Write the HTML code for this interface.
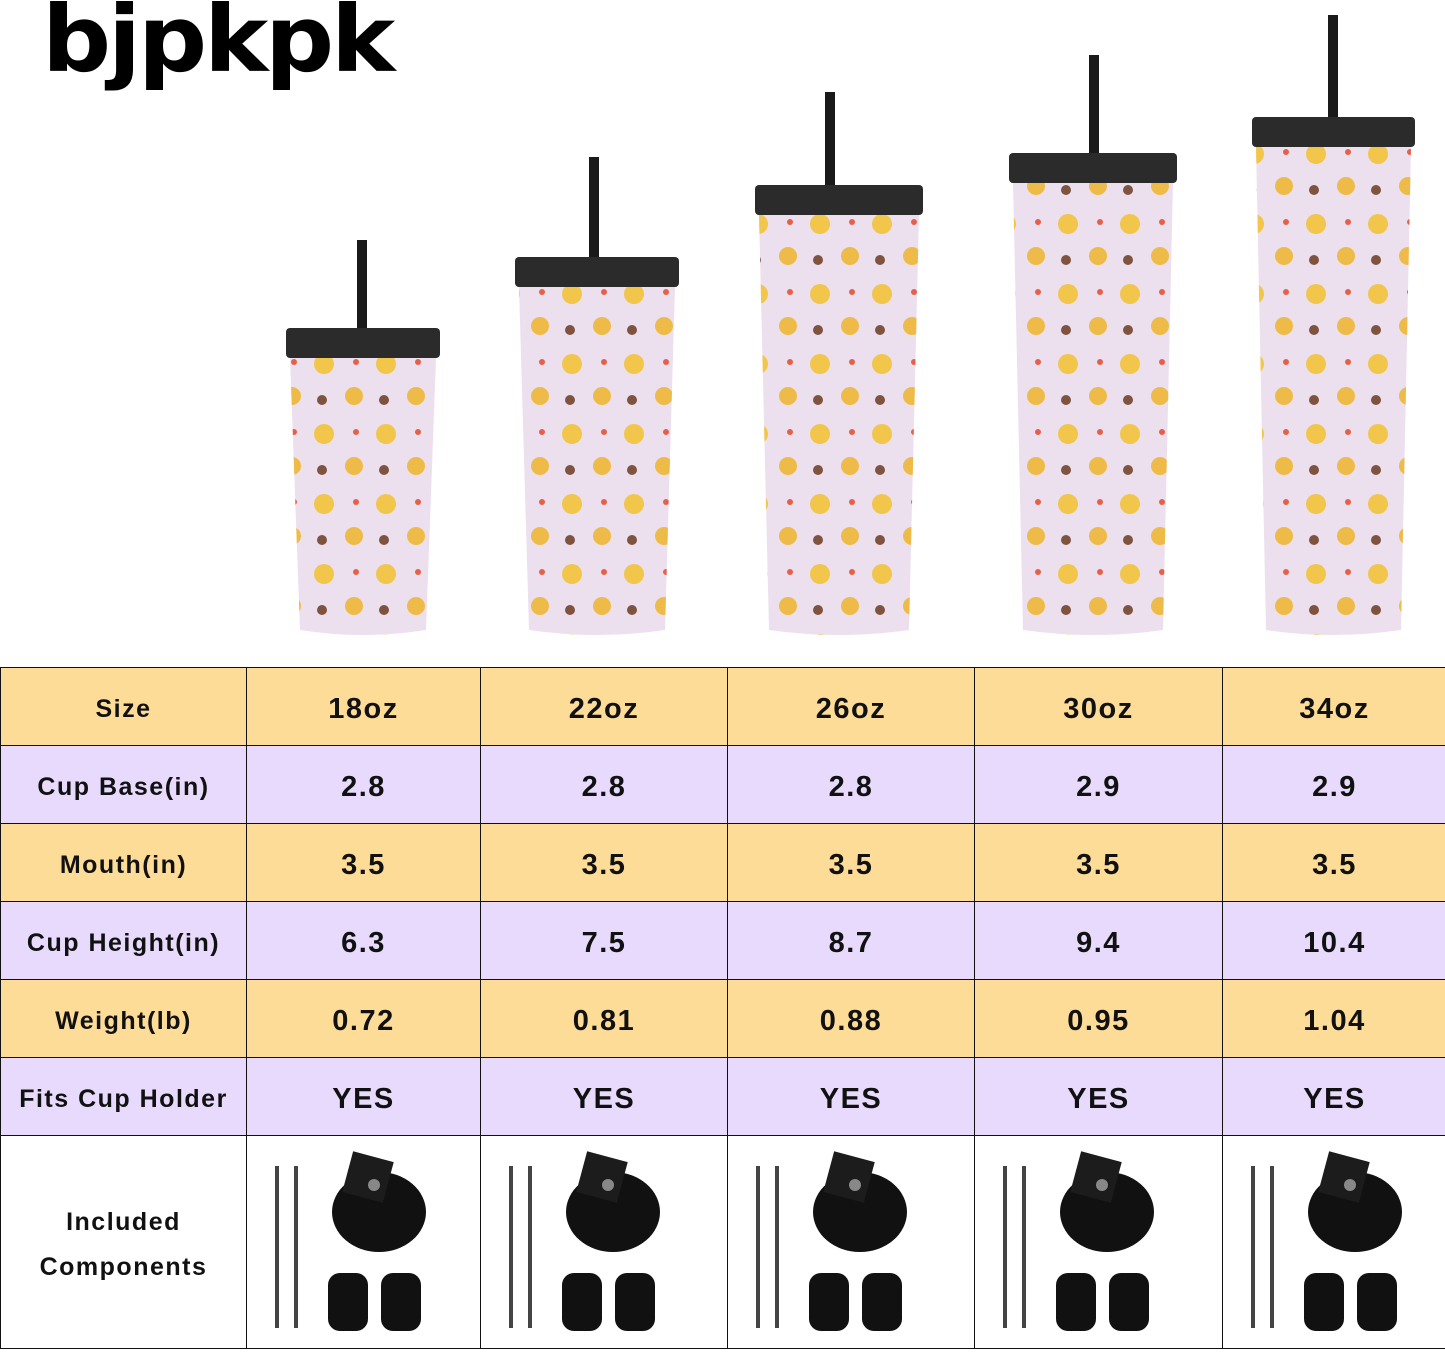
<!DOCTYPE html><html><head><style>
body{margin:0;width:1445px;height:1353px;background:#fff;position:relative;overflow:hidden;font-family:"Liberation Sans","DejaVu Sans",sans-serif}
.a{position:absolute}
.logo{left:42px;top:-14px;font-size:92px;font-weight:900;letter-spacing:-3px;color:#000;font-family:"DejaVu Sans",sans-serif;transform:scaleX(1.05);transform-origin:left}
table{position:absolute;left:0;top:667px;border-collapse:collapse;width:1447px}
td{border:1.5px solid #111;text-align:center;font-size:29px;font-weight:bold;color:#111;padding:6px 0 0 0;letter-spacing:1.5px}
td.h{font-size:25px}
.y td{background:#fddc98}.p td{background:#e8dafc}
tr{height:78px}
.c td{background:#fff;height:206px}
</style></head><body>
<div class="a logo">bjpkpk</div>
<svg class="a" style="left:0;top:0" width="1445" height="660" id="cupsvg">
<defs><pattern id="d" width="62" height="70" patternUnits="userSpaceOnUse"><circle cx="14" cy="14" r="10" fill="#f2c12e"/><circle cx="44" cy="46" r="9" fill="#f0b52a"/><circle cx="46" cy="12" r="3" fill="#e24a2a"/><circle cx="12" cy="50" r="5" fill="#6b3a20"/></pattern></defs>
<g id="cups"></g>
</svg>
<table>
<tr class="y"><td class="h" style="width:245px">Size</td><td style="width:233px">18oz</td><td style="width:246px">22oz</td><td style="width:246px">26oz</td><td style="width:247px">30oz</td><td>34oz</td></tr>
<tr class="p"><td class="h">Cup Base(in)</td><td>2.8</td><td>2.8</td><td>2.8</td><td>2.9</td><td>2.9</td></tr>
<tr class="y"><td class="h">Mouth(in)</td><td>3.5</td><td>3.5</td><td>3.5</td><td>3.5</td><td>3.5</td></tr>
<tr class="p"><td class="h">Cup Height(in)</td><td>6.3</td><td>7.5</td><td>8.7</td><td>9.4</td><td>10.4</td></tr>
<tr class="y"><td class="h">Weight(lb)</td><td>0.72</td><td>0.81</td><td>0.88</td><td>0.95</td><td>1.04</td></tr>
<tr class="p"><td class="h">Fits Cup Holder</td><td>YES</td><td>YES</td><td>YES</td><td>YES</td><td>YES</td></tr>
<tr class="c"><td class="h" style="line-height:45px">Included<br>Components</td><td></td><td></td><td></td><td></td><td></td></tr>
</table>
<svg class="a" style="left:0;top:1140px" width="1445" height="213" id="comp"></svg>
<script>
var cups=[[286,440,328,362,240],[515,679,257,594,157],[755,923,185,830,92],[1009,1177,153,1094,55],[1252,1415,117,1333,15]];
var s='';cups.forEach(function(c){var l=c[0],r=c[1],t=c[2];
s+='<rect x="'+(c[3]-5)+'" y="'+c[4]+'" width="10" height="'+(t-c[4])+'" fill="#1a1a1a"/>';
var p='M'+(l+4)+' '+(t+30)+' L'+(r-4)+' '+(t+30)+' L'+(r-14)+' 630 Q'+(l+r)/2+' 640 '+(l+14)+' 630 Z';
s+='<path d="'+p+'" fill="#ece0ef"/><path d="'+p+'" fill="url(#d)" opacity="0.85"/>';
s+='<rect x="'+l+'" y="'+t+'" width="'+(r-l)+'" height="30" rx="4" fill="#2b2b2b"/>';});
document.getElementById('cups').innerHTML=s;
var xs=[249,483,730,977,1225];s='';xs.forEach(function(x){
s+='<rect x="'+(x+26)+'" y="26" width="4" height="162" fill="#444"/><rect x="'+(x+45)+'" y="26" width="4" height="162" fill="#444"/>';
s+='<ellipse cx="'+(x+130)+'" cy="72" rx="47" ry="40" fill="#111"/><rect x="'+(x+98)+'" y="16" width="42" height="42" fill="#1c1c1c" transform="rotate(15 '+(x+119)+' 37)"/><circle cx="'+(x+125)+'" cy="45" r="6" fill="#888"/>';
s+='<rect x="'+(x+79)+'" y="133" width="40" height="58" rx="12" fill="#111"/><rect x="'+(x+132)+'" y="133" width="40" height="58" rx="12" fill="#111"/>';});
document.getElementById('comp').innerHTML=s;
</script>
</body></html>
